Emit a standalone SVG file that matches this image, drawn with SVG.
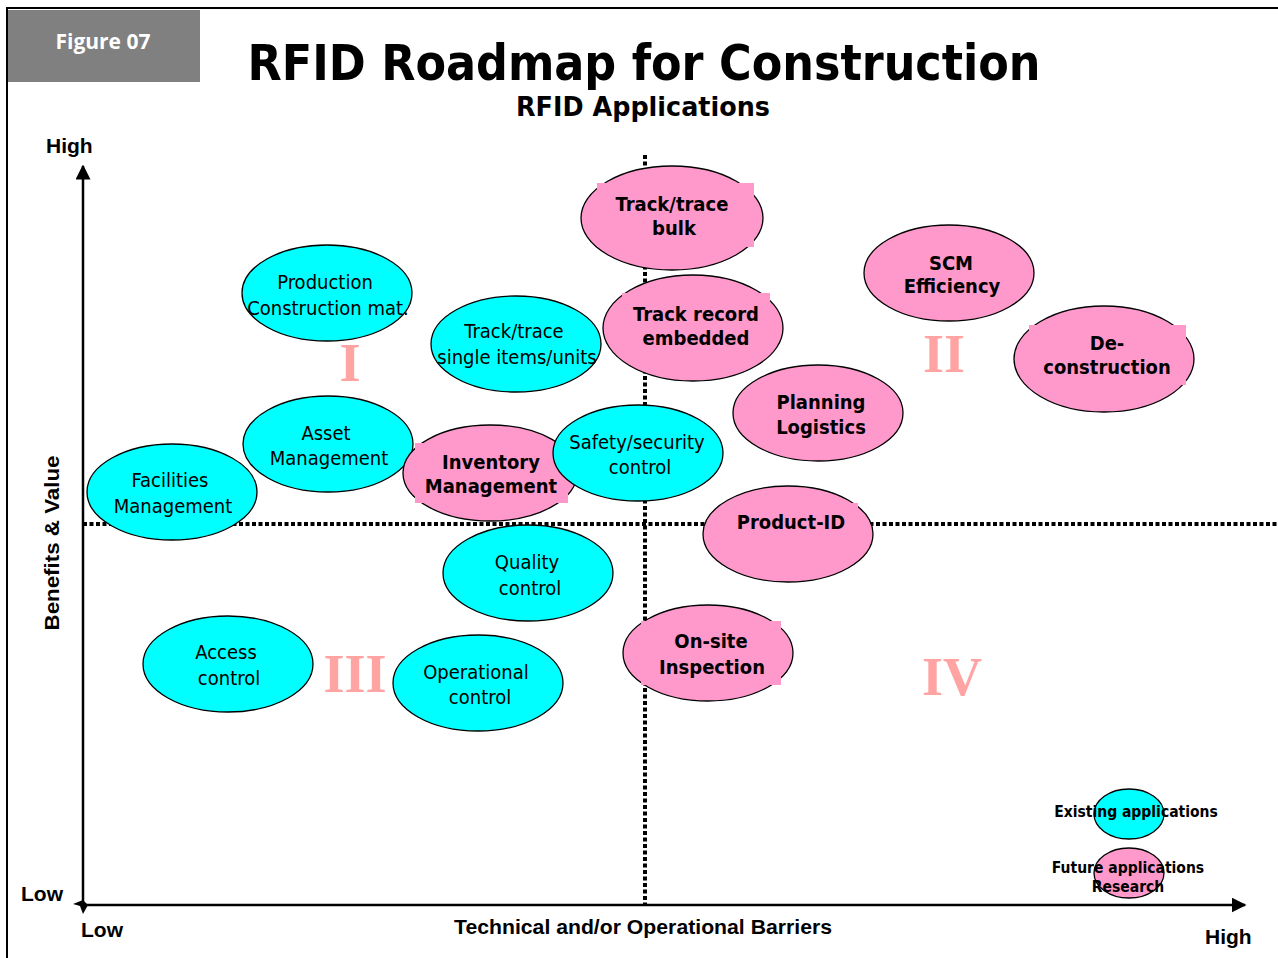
<svg xmlns="http://www.w3.org/2000/svg" width="1278" height="958" viewBox="0 0 1278 958">
  <style>
    .frame { fill: none; stroke: #000; stroke-width: 2; }
    .axis { stroke: #000; stroke-width: 2.5; fill: none; }
    .grid { stroke: #000; stroke-width: 4; stroke-dasharray: 4 2.5; fill: none; }
    .cur { fill: #00FFFF; stroke: #000; stroke-width: 1.3; }
    .fut { fill: #FF99CC; stroke: #000; stroke-width: 1.3; }
    .tbox { fill: #FF99CC; }
    .lc { font-family: "DejaVu Sans", "Liberation Sans", sans-serif; font-stretch: condensed; font-size: 20px; fill: #000; text-anchor: middle; }
    .lf { font-family: "DejaVu Sans", "Liberation Sans", sans-serif; font-stretch: condensed; font-weight: bold; font-size: 20px; fill: #000; text-anchor: middle; }
    .ax { font-family: "Liberation Sans", Arial, sans-serif; font-weight: bold; font-size: 21px; fill: #000; }
    .roman { font-family: "Liberation Serif", "Times New Roman", serif; font-weight: bold; font-size: 54px; fill: #FFA3A3; text-anchor: middle; }
    .leg { font-family: "DejaVu Sans", "Liberation Sans", sans-serif; font-stretch: condensed; font-weight: bold; font-size: 15.5px; fill: #000; text-anchor: middle; }
  </style>
  <defs>
    <marker id="arrow" viewBox="0 0 10 10" refX="9" refY="5" markerWidth="6" markerHeight="6" orient="auto" markerUnits="strokeWidth">
      <path d="M0,0 L10,5 L0,10 z" fill="#000"/>
    </marker>
  </defs>

  <rect x="0" y="0" width="1278" height="958" fill="#fff"/>

  <!-- page frame and figure tag -->
  <g id="frame">
    <path class="frame" d="M7,958 V8 H1278"/>
    <rect x="8" y="10" width="192" height="72" fill="#808080"/>
    <text x="103" y="49" font-family="'Open Sans', 'DejaVu Sans', sans-serif" font-weight="bold" font-size="21" fill="#fff" text-anchor="middle">Figure 07</text>
  </g>

  <!-- titles -->
  <g id="title">
    <text x="644" y="80" font-family="'DejaVu Sans', sans-serif" font-stretch="condensed" font-weight="bold" font-size="49" text-anchor="middle" textLength="793" lengthAdjust="spacingAndGlyphs">RFID Roadmap for Construction</text>
    <text x="643" y="116" font-family="'DejaVu Sans', sans-serif" font-stretch="condensed" font-weight="bold" font-size="26" text-anchor="middle" textLength="254" lengthAdjust="spacingAndGlyphs">RFID Applications</text>
  </g>

  <!-- axes and quadrant dividers -->
  <g id="connectors">
    <line class="grid" x1="83" y1="524" x2="1278" y2="524"/>
    <line class="grid" x1="645" y1="155" x2="645" y2="905"/>
    <line class="axis" x1="83" y1="905" x2="83" y2="166" marker-end="url(#arrow)"/>
    <line class="axis" x1="83" y1="905" x2="1245" y2="905" marker-end="url(#arrow)"/>
    <path d="M73,904 L83,900 L88,905 L83,914 L80,906 z" fill="#000"/>
  </g>

  <g id="axis-labels">
    <text class="ax" x="46" y="153">High</text>
    <text class="ax" x="21" y="901">Low</text>
    <text class="ax" x="81" y="937">Low</text>
    <text class="ax" x="1205" y="944">High</text>
    <text class="ax" x="643" y="934" font-size="19" text-anchor="middle" textLength="378" lengthAdjust="spacingAndGlyphs">Technical and/or Operational Barriers</text>
    <text class="ax" x="0" y="0" font-size="19" text-anchor="middle" transform="translate(59,543) rotate(-90)" textLength="175" lengthAdjust="spacingAndGlyphs">Benefits &amp; Value</text>
  </g>

  <!-- quadrant numerals -->
  <g id="quadrants">
    <text class="roman" x="350" y="381">I</text>
    <text class="roman" x="944" y="372">II</text>
    <text class="roman" x="355" y="692">III</text>
    <text class="roman" x="952" y="695">IV</text>
  </g>

  <!-- existing applications -->
  <g id="production">
    <ellipse class="cur" cx="327" cy="293" rx="85" ry="48"/>
    <text class="lc" x="325" y="289">Production</text>
    <text class="lc" x="328" y="315">Construction mat.</text>
  </g>
  <g id="track-single">
    <ellipse class="cur" cx="516" cy="344" rx="85" ry="48"/>
    <text class="lc" x="514" y="338">Track/trace</text>
    <text class="lc" x="517" y="364">single items/units</text>
  </g>
  <g id="asset">
    <ellipse class="cur" cx="328" cy="444" rx="85" ry="48"/>
    <text class="lc" x="326" y="440">Asset</text>
    <text class="lc" x="329" y="465">Management</text>
  </g>
  <g id="facilities">
    <ellipse class="cur" cx="172" cy="492" rx="85" ry="48"/>
    <text class="lc" x="170" y="487">Facilities</text>
    <text class="lc" x="173" y="513">Management</text>
  </g>
  <g id="quality">
    <ellipse class="cur" cx="528" cy="573" rx="85" ry="48"/>
    <text class="lc" x="527" y="569">Quality</text>
    <text class="lc" x="530" y="595">control</text>
  </g>
  <g id="access">
    <ellipse class="cur" cx="228" cy="664" rx="85" ry="48"/>
    <text class="lc" x="226" y="659">Access</text>
    <text class="lc" x="229" y="685">control</text>
  </g>
  <g id="operational">
    <ellipse class="cur" cx="478" cy="683" rx="85" ry="48"/>
    <text class="lc" x="476" y="679">Operational</text>
    <text class="lc" x="480" y="704">control</text>
  </g>

  <!-- future applications -->
  <g id="track-bulk">
    <ellipse class="fut" cx="672" cy="218" rx="91" ry="52"/>
    <rect class="tbox" x="597" y="183" width="157" height="64"/>
    <text class="lf" x="672" y="211">Track/trace</text>
    <text class="lf" x="674" y="235">bulk</text>
  </g>
  <g id="track-record">
    <ellipse class="fut" cx="693" cy="328" rx="90" ry="53"/>
    <rect class="tbox" x="622" y="293" width="148" height="62"/>
    <text class="lf" x="696" y="321">Track record</text>
    <text class="lf" x="696" y="345">embedded</text>
  </g>
  <g id="scm">
    <ellipse class="fut" cx="949" cy="273" rx="85" ry="48"/>
    <text class="lf" x="951" y="270" font-size="19">SCM</text>
    <text class="lf" x="952" y="293" font-size="19">Efficiency</text>
  </g>
  <g id="deconstruction">
    <ellipse class="fut" cx="1104" cy="359" rx="90" ry="53"/>
    <rect class="tbox" x="1029" y="325" width="157" height="60"/>
    <text class="lf" x="1107" y="350">De-</text>
    <text class="lf" x="1107" y="374">construction</text>
  </g>
  <g id="planning">
    <ellipse class="fut" cx="818" cy="413" rx="85" ry="48"/>
    <text class="lf" x="821" y="409" font-size="21">Planning</text>
    <text class="lf" x="821" y="434" font-size="21">Logistics</text>
  </g>
  <g id="inventory">
    <ellipse class="fut" cx="490" cy="473" rx="87" ry="48"/>
    <rect class="tbox" x="415" y="443" width="153" height="60"/>
  </g>
  <g id="safety">
    <ellipse class="cur" cx="638" cy="453" rx="85" ry="48"/>
    <text class="lc" x="637" y="449">Safety/security</text>
    <text class="lc" x="640" y="474">control</text>
  </g>
  <g id="inventory-label">
    <text class="lf" x="491" y="469" font-size="19">Inventory</text>
    <text class="lf" x="491" y="493" font-size="19">Management</text>
  </g>
  <g id="product-id">
    <ellipse class="fut" cx="788" cy="534" rx="85" ry="48"/>
    <rect class="tbox" x="735" y="503" width="123" height="48"/>
    <text class="lf" x="791" y="529">Product-ID</text>
  </g>
  <g id="onsite">
    <ellipse class="fut" cx="708" cy="653" rx="85" ry="48"/>
    <rect class="tbox" x="641" y="621" width="140" height="64"/>
    <text class="lf" x="711" y="648">On-site</text>
    <text class="lf" x="712" y="674">Inspection</text>
  </g>

  <!-- legend -->
  <g id="legend-existing">
    <ellipse class="cur" cx="1129" cy="814" rx="35" ry="25"/>
    <text class="leg" x="1136" y="817">Existing applications</text>
  </g>
  <g id="legend-future">
    <ellipse class="fut" cx="1129" cy="873" rx="35" ry="25"/>
    <text class="leg" x="1128" y="873">Future applications</text>
    <text class="leg" x="1128" y="892">Research</text>
  </g>
</svg>
